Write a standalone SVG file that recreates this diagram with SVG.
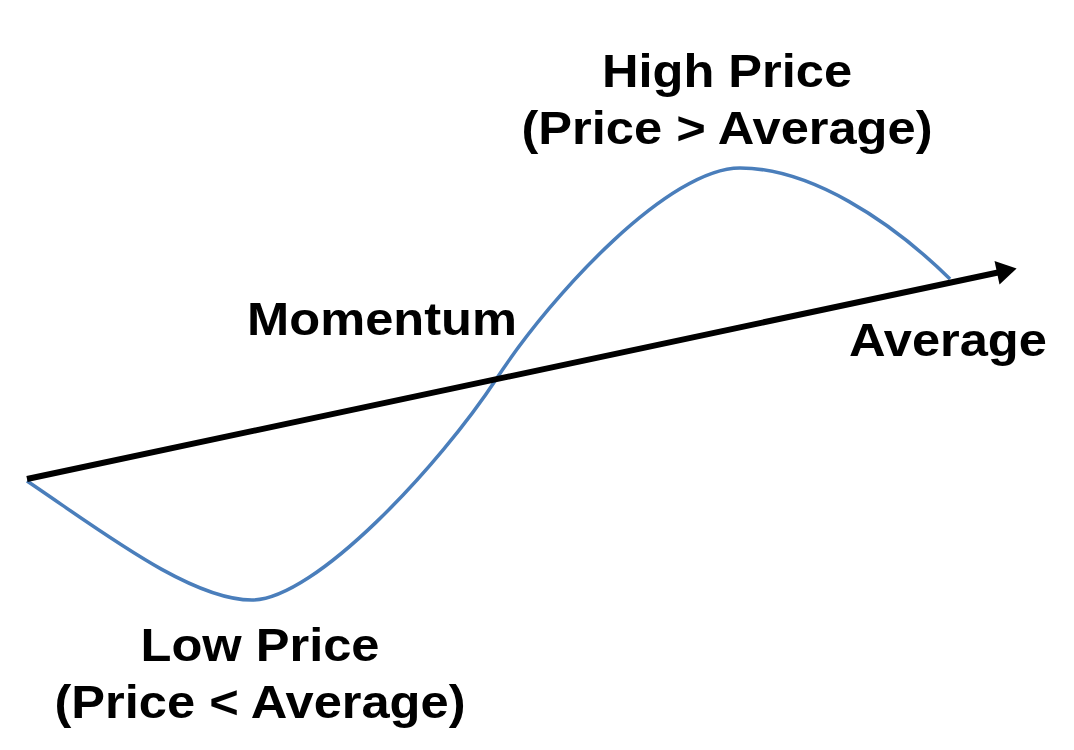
<svg xmlns="http://www.w3.org/2000/svg" width="1074" height="750" viewBox="0 0 1074 750">
<style>
.t{font-family:"Liberation Sans",Arial,sans-serif;font-weight:bold;font-size:46px;fill:#000;text-anchor:middle}
</style>
<defs>
<marker id="ah" markerUnits="userSpaceOnUse" markerWidth="22" markerHeight="26" refX="1" refY="12" orient="auto" overflow="visible">
<path d="M0,0 L20,12 L0,24 Z" fill="#000"/>
</marker>
</defs>
<rect width="1074" height="750" fill="#fff"/>
<g id="connectors">
<path id="wave" d="M27,481 C100,530 190,600 252,600 C315,600 440,465 497,378 C554,291 670,168 740,168 C810,168 890,220 950,279" fill="none" stroke="#4a7ebb" stroke-width="3.5"/>
<line id="average-line" x1="27" y1="479" x2="998" y2="272.5" stroke="#000" stroke-width="6" marker-end="url(#ah)"/>
</g>
<g id="high"><text class="t" transform="translate(727,87) scale(1.1,1)">High Price</text><text class="t" transform="translate(727,144) scale(1.1,1)">(Price &gt; Average)</text></g>
<g id="momentum"><text class="t" transform="translate(382,335) scale(1.1,1)">Momentum</text></g>
<g id="average"><text class="t" transform="translate(948,356) scale(1.1,1)">Average</text></g>
<g id="low"><text class="t" transform="translate(260,661) scale(1.1,1)">Low Price</text><text class="t" transform="translate(260,718) scale(1.1,1)">(Price &lt; Average)</text></g>
</svg>
